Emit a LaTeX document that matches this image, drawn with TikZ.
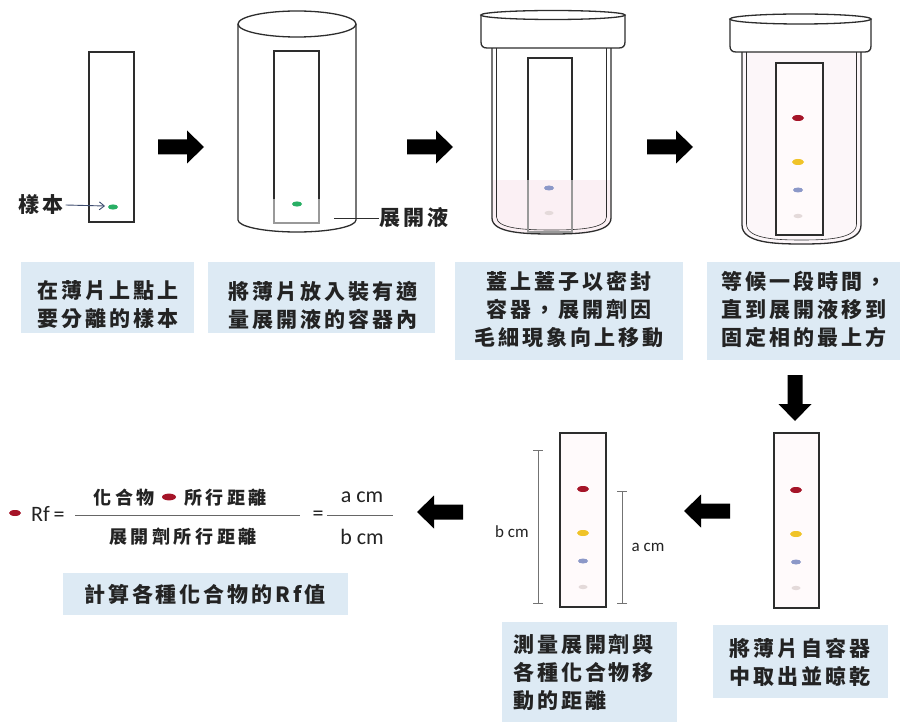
\documentclass[tikz,border=0pt]{standalone}
\usepackage{fontspec}
\usetikzlibrary{arrows.meta}
\newfontfamily\cjk[LetterSpace=14]{Noto Sans CJK TC}
\newfontfamily\cjkf[LetterSpace=20]{Noto Sans CJK TC}
\newfontfamily\latin{Carlito}

\definecolor{boxbg}{RGB}{221,234,244}
\definecolor{ink}{RGB}{45,45,45}
\definecolor{txt}{RGB}{35,35,35}
\definecolor{spotred}{RGB}{165,20,40}
\definecolor{spotyel}{RGB}{240,195,40}
\definecolor{spotblue}{RGB}{140,152,200}
\definecolor{spotpale}{RGB}{228,218,218}
\definecolor{spotgreen}{RGB}{40,175,100}
\definecolor{solvent}{RGB}{251,240,244}
\definecolor{jartint}{RGB}{252,246,249}
\definecolor{platetint}{RGB}{255,250,251}
\definecolor{pointer}{RGB}{60,75,110}

\tikzset{
  outline/.style={draw=ink, line width=1.3},
  thinline/.style={draw=ink, line width=0.6},
  plate/.style={draw=ink, line width=1.5},
  wetplate/.style={draw=black!40, line width=1.2},
  caption/.style={font={\cjk\bfseries\fontsize{21}{28}\selectfont}, text=txt, inner sep=0pt, align=center},
  formula/.style={font={\cjkf\bfseries\fontsize{18}{24}\selectfont}, text=txt, inner sep=0pt},
  latinlbl/.style={font={\latin\fontsize{22}{24}\selectfont}, text=txt, inner sep=0pt},
  ruler/.style={draw=black!55, line width=0.9, {Bar[width=10pt]}-{Bar[width=10pt]}},
  blockarrow/.pic={\fill[black] (-23,-7.5) -- (6,-7.5) -- (6,-16.5) -- (23,0) -- (6,16.5) -- (6,7.5) -- (-23,7.5) -- cycle;}
}

\begin{document}
\begin{tikzpicture}[x=1pt,y=-1pt]
\useasboundingbox (0,0) rectangle (903,722);
\fill[white] (0,0) rectangle (903,722);

% ---------- stage 1: plate with sample spot ----------
\draw[plate] (89,52) rectangle (134,222);
\fill[spotgreen] (113,207) ellipse [x radius=5, y radius=2.6];
\node[caption] (sample) at (41,205) {樣本};
\coordinate (spot1) at (105,206);
\draw[pointer, line width=0.9, -{Straight Barb[length=5pt,width=8pt]}] (sample.east) ++(2,0) -- (spot1);

% ---------- stage 2: open cylinder ----------
\draw[outline] (297,24) ellipse [x radius=59, y radius=13];
\draw[outline] (238,24) -- (238,220) arc (180:0:59 and 12) -- (356,24);
\draw[plate] (274,199) -- (274,51) -- (319,51) -- (319,199);
\draw[wetplate] (274,199) -- (274,223) -- (319,223) -- (319,199);
\fill[spotgreen] (297,204) ellipse [x radius=5, y radius=2.6];
\node[caption, anchor=west] (solventlbl) at (379,218) {展開液};
\coordinate (solventpt) at (334,218);
\draw[ink, line width=0.9] (solventpt) -- (solventlbl.west);

% ---------- stage 3: sealed jar, solvent rising ----------
\begin{scope}
  \clip (492,48) -- (492,218) .. controls (492,233) and (525,234) .. (551.5,234)
        .. controls (578,234) and (611,233) .. (611,218) -- (611,48) -- cycle;
  \fill[solvent] (480,180) rectangle (625,240);
\end{scope}
\draw[outline] (492,48) -- (492,218) .. controls (492,233) and (525,234) .. (551.5,234)
      .. controls (578,234) and (611,233) .. (611,218) -- (611,48);
\draw[thinline] (496.5,48) -- (496.5,217) .. controls (496.5,229) and (527,230) .. (551.5,230)
      .. controls (576,230) and (606.5,229) .. (606.5,217) -- (606.5,48);
\draw[outline, fill=white] (481,15) -- (481,42) .. controls (481,46) and (483,48) .. (487,48)
      -- (619,48) .. controls (623,48) and (625,46) .. (625,42) -- (625,15);
\draw[outline, fill=white] (553,15) ellipse [x radius=72, y radius=4.5];
\draw[plate] (528,180) -- (528,58) -- (572,58) -- (572,180);
\draw[wetplate] (528,180) -- (528,232) -- (572,232) -- (572,180);
\fill[spotblue] (549,188) ellipse [x radius=5, y radius=2.5];
\fill[spotpale] (549,213) ellipse [x radius=4.5, y radius=2.2];

% ---------- stage 4: jar after development ----------
\filldraw[outline, fill=jartint] (742,52) -- (742,225) .. controls (742,243) and (775,244) .. (801.5,244)
      .. controls (828,244) and (861,243) .. (861,225) -- (861,52);
\draw[thinline] (746.5,52) -- (746.5,224) .. controls (746.5,239) and (777,240) .. (801.5,240)
      .. controls (826,240) and (856.5,239) .. (856.5,224) -- (856.5,52);
\draw[outline, fill=white] (730,19) -- (730,46) .. controls (730,50) and (732,52) .. (736,52)
      -- (865,52) .. controls (869,52) and (871,50) .. (871,46) -- (871,19);
\draw[outline, fill=white] (800.5,19) ellipse [x radius=70.5, y radius=5];
\draw[plate, fill=platetint] (776,63) rectangle (823,235);
\draw[ink, line width=2.2] (776,63) -- (823,63);
\fill[spotred] (798,118) ellipse [x radius=6, y radius=3];
\fill[spotyel] (798,162) ellipse [x radius=6, y radius=3];
\fill[spotblue] (798,190) ellipse [x radius=5, y radius=2.5];
\fill[spotpale] (798,216) ellipse [x radius=4.5, y radius=2.2];

% ---------- arrows between stages ----------
\pic at (181,147) {blockarrow};
\pic at (430,147) {blockarrow};
\pic at (670,147) {blockarrow};
\pic[rotate=-90] at (795,398) {blockarrow};
\pic[rotate=180] at (707,511) {blockarrow};
\pic[rotate=180] at (440,512) {blockarrow};

% ---------- captions, first row ----------
\fill[boxbg] (21,262) rectangle (194,333);
\node[caption] (cap1) at (108,305) {在薄片上點上\\要分離的樣本};
\fill[boxbg] (208,262) rectangle (435,333);
\node[caption] (cap2) at (323,305) {將薄片放入裝有適\\量展開液的容器內};
\fill[boxbg] (455,262) rectangle (683,360);
\node[caption] (cap3) at (569,309) {蓋上蓋子以密封\\容器，展開劑因\\毛細現象向上移動};
\fill[boxbg] (707,262) rectangle (900,360);
\node[caption] (cap4) at (804,309) {等候一段時間，\\直到展開液移到\\固定相的最上方};

% ---------- stage 5: dried plate ----------
\draw[plate, fill=platetint] (774,433) rectangle (819,608);
\fill[spotred] (796,490) ellipse [x radius=6, y radius=3];
\fill[spotyel] (796,534) ellipse [x radius=6, y radius=3];
\fill[spotblue] (796,562) ellipse [x radius=5, y radius=2.5];
\fill[spotpale] (796,588) ellipse [x radius=4.5, y radius=2.2];
\fill[boxbg] (713,625) rectangle (888,698);
\node[caption] (cap5) at (800,662) {將薄片自容器\\中取出並晾乾};

% ---------- stage 6: measuring distances ----------
\draw[plate, fill=platetint] (560,433) rectangle (606,607);
\fill[spotred] (583,489) ellipse [x radius=6, y radius=3];
\fill[spotyel] (583,533) ellipse [x radius=6, y radius=3];
\fill[spotblue] (583,561) ellipse [x radius=5, y radius=2.5];
\fill[spotpale] (583,587) ellipse [x radius=4.5, y radius=2.2];
\coordinate (btop) at (538,450);
\coordinate (bbot) at (538,604);
\coordinate (atop) at (622,491);
\coordinate (abot) at (622,604);
\draw[ruler] (btop) -- (bbot);
\draw[ruler] (atop) -- (abot);
\node[latinlbl, font={\latin\fontsize{17}{18}\selectfont}] (blen) at (512,532) {b cm};
\node[latinlbl, font={\latin\fontsize{17}{18}\selectfont}] (alen) at (648,547) {a cm};
\fill[boxbg] (502,622) rectangle (677,722);
\node[caption, align=left, anchor=west] (cap6) at (513,672) {測量展開劑與\\各種化合物移\\動的距離};

% ---------- stage 7: Rf formula ----------
\fill[spotred] (15,513) ellipse [x radius=6, y radius=3];
\node[latinlbl, anchor=west] (rf) at (31,514) {Rf\,=};
\draw[black!60, line width=0.9] (75,515) -- (300,515);
\node[formula, anchor=east] (num1) at (155,498) {化合物};
\fill[spotred] (169,497) ellipse [x radius=7, y radius=3.4];
\node[formula, anchor=west] (num2) at (184,498) {所行距離};
\node[formula] (den) at (183,537) {展開劑所行距離};
\node[latinlbl] (eq) at (318,516) {=};
\draw[black!60, line width=0.9] (327,515) -- (393,515);
\node[latinlbl] (afrac) at (362,497) {a cm};
\node[latinlbl] (bfrac) at (362,537) {b cm};
\fill[boxbg] (63,573) rectangle (348,615);
\node[caption] (cap7) at (205,594) {計算各種化合物的Rf值};

\end{tikzpicture}
\end{document}
